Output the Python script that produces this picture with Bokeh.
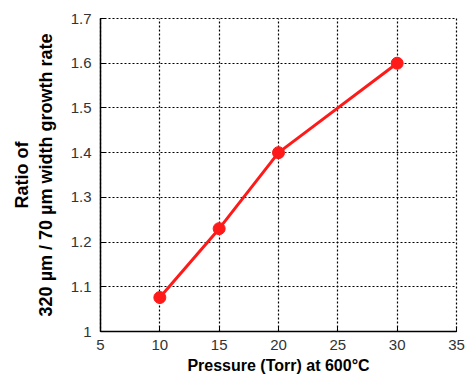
from bokeh.plotting import figure
from bokeh.models import FixedTicker, Range1d
from bokeh.embed import file_html
from bokeh.resources import INLINE

pressure = [10, 15, 20, 30]
ratio = [1.076, 1.23, 1.40, 1.60]
x_ticks = [5, 10, 15, 20, 25, 30, 35]
y_ticks = [1.0, 1.1, 1.2, 1.3, 1.4, 1.5, 1.6, 1.7]
y_tick_labels = ["1", "1.1", "1.2", "1.3", "1.4", "1.5", "1.6", "1.7"]

p = figure(width=467, height=377, output_backend="svg", toolbar_location=None,
           x_range=Range1d(5, 35), y_range=Range1d(1.0, 1.7),
           min_border_left=100, min_border_right=11, min_border_top=18, min_border_bottom=46)
p.outline_line_color = "black"
p.outline_line_dash = "2 2"
p.outline_line_width = 1.2
p.background_fill_color = "white"
p.border_fill_color = "white"

for g in (p.xgrid[0], p.ygrid[0]):
    g.grid_line_color = "black"
    g.grid_line_dash = "2 2"
    g.grid_line_width = 1.2

p.line(pressure, ratio, line_color="#ff1a1a", line_width=3)
p.scatter(pressure, ratio, size=12, fill_color="#ff1a1a", line_color="#ff1a1a")

for ax in (p.xaxis[0], p.yaxis[0]):
    ax.axis_line_color = "black"
    ax.axis_line_width = 1.5
    ax.major_tick_in = 5
    ax.major_tick_out = 0
    ax.minor_tick_line_color = None
    ax.major_tick_line_color = "black"
    ax.major_label_text_font = "Liberation Sans"
    ax.major_label_text_font_size = "15px"
    ax.major_label_text_color = "#333333"
    ax.axis_label_text_font = "Liberation Sans"
    ax.axis_label_text_font_style = "bold"
    ax.axis_label_text_color = "black"

p.xaxis.axis_label_text_font_size = "16px"
p.yaxis.axis_label_text_font_size = "18px"
p.xaxis.ticker = FixedTicker(ticks=x_ticks)
p.yaxis.ticker = FixedTicker(ticks=y_ticks)
p.yaxis.major_label_overrides = {t: l for t, l in zip(y_ticks, y_tick_labels)}
p.xaxis.major_label_standoff = 8
p.yaxis.major_label_standoff = 9
p.xaxis.axis_label = "Pressure (Torr) at 600\u00b0C"
p.xaxis.axis_label_standoff = 4
p.yaxis.axis_label = "Ratio of\n320 \u00b5m / 70 \u00b5m width growth rate"
p.yaxis.axis_label_standoff = 12

open("out.html", "w").write(file_html(p, INLINE))
